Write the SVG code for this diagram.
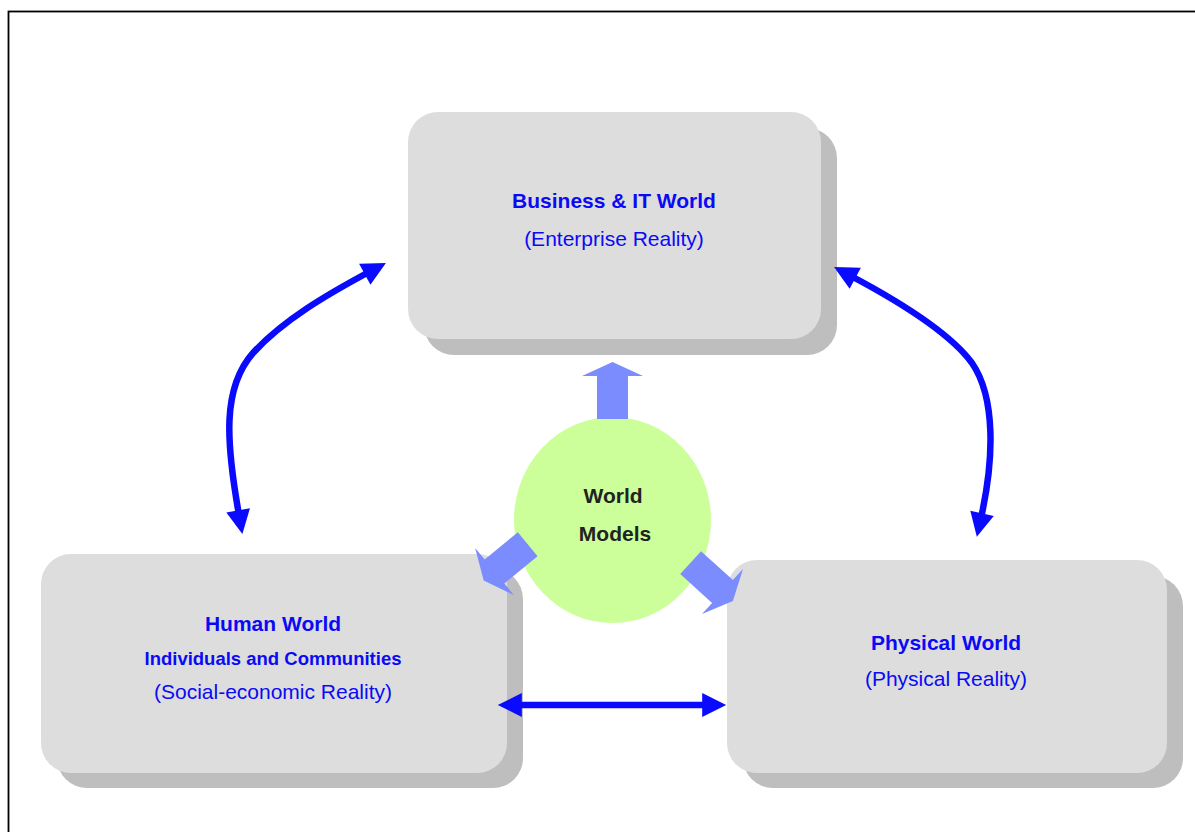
<svg xmlns="http://www.w3.org/2000/svg" width="1195" height="832" viewBox="0 0 1195 832">
<style>
.shadow{fill:#bebebe}
.box{fill:#dddddd}
.t{font-family:"Liberation Sans",Arial,sans-serif;fill:#0a0af5;text-anchor:middle}
.b{font-weight:bold}
.fat{fill:#7b8cff}
.link{fill:none;stroke:#0a0aff;stroke-width:6.5}
</style>
<defs>
<marker id="ah" viewBox="0 0 10 10" refX="2" refY="5" markerWidth="25" markerHeight="24" markerUnits="userSpaceOnUse" orient="auto-start-reverse">
<path d="M0,0 L10,5 L0,10 Z" fill="#0a0aff"/>
</marker>
<path id="fatArrow" d="M-15.5,0 L-30.5,0 L0,-14 L30.5,0 L15.5,0 L15.5,43 L-15.5,43 Z"/>
</defs>
<rect x="8.5" y="11.5" width="1200" height="830" fill="#ffffff" stroke="#000000" stroke-width="1.8"/>

<g id="business">
<rect class="shadow" x="424" y="128" width="413" height="227" rx="30"/>
<rect class="box" x="408" y="112" width="413" height="227" rx="30"/>
<text class="t b" x="614" y="208" font-size="21">Business &amp; IT World</text>
<text class="t" x="614" y="246" font-size="21">(Enterprise Reality)</text>
</g>

<g id="human">
<rect class="shadow" x="57" y="569" width="466" height="219" rx="30"/>
<rect class="box" x="41" y="554" width="466" height="219" rx="30"/>
<text class="t b" x="273" y="631" font-size="21">Human World</text>
<text class="t b" x="273" y="665" font-size="18.5">Individuals and Communities</text>
<text class="t" x="273" y="699" font-size="21">(Social-economic Reality)</text>
</g>

<g id="physical">
<rect class="shadow" x="743" y="576" width="440" height="212" rx="30"/>
<rect class="box" x="727" y="560" width="440" height="213" rx="30"/>
<text class="t b" x="946" y="650" font-size="21">Physical World</text>
<text class="t" x="946" y="686" font-size="21">(Physical Reality)</text>
</g>

<g id="worldmodels">
<ellipse cx="612.5" cy="520" rx="98.5" ry="103" fill="#ccff99"/>
<text class="b" x="613" y="503" font-size="21" font-family="Liberation Sans, Arial, sans-serif" fill="#222222" text-anchor="middle">World</text>
<text class="b" x="615" y="541" font-size="21" font-family="Liberation Sans, Arial, sans-serif" fill="#222222" text-anchor="middle">Models</text>
</g>

<g id="connectors">
<use href="#fatArrow" class="fat" transform="translate(612.5,376)"/>
<use href="#fatArrow" class="fat" transform="translate(494.5,571.5) rotate(-129.4)"/>
<use href="#fatArrow" class="fat" transform="translate(722.5,591.5) rotate(132.2)"/>
<path class="link" d="M239,515 C226,442 222,388 253,353 C283,320 328,294 369,272" marker-start="url(#ah)" marker-end="url(#ah)"/>
<path class="link" d="M851,276 C900,302 950,333 972,363 C996,398 994,460 981,518" marker-start="url(#ah)" marker-end="url(#ah)"/>
<path class="link" d="M517,705 L707,705" marker-start="url(#ah)" marker-end="url(#ah)"/>
</g>
</svg>
